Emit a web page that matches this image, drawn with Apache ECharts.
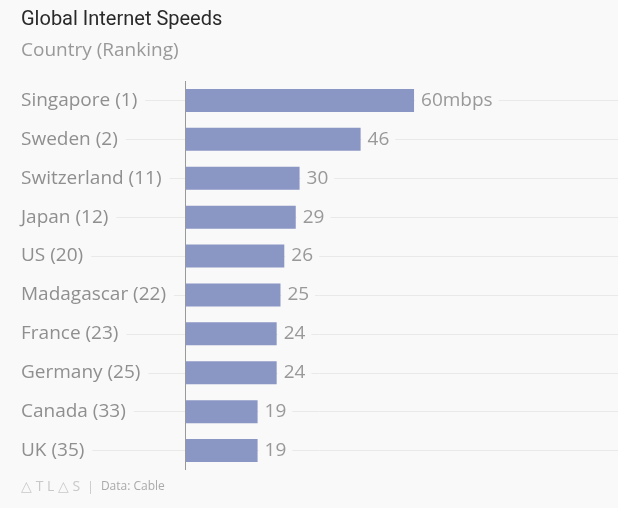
<!DOCTYPE html>
<html>
<head>
<meta charset="utf-8">
<script src="https://cdn.jsdelivr.net/npm/echarts@6/dist/echarts.min.js"></script>
<style>
  html, body { margin: 0; padding: 0; background: #f9f9f9; }
  #chart { width: 618px; height: 508px; }
</style>
</head>
<body>
<div id="chart"></div>
<script>
var countries = ['Singapore (1)', 'Sweden (2)', 'Switzerland (11)', 'Japan (12)', 'US (20)',
                 'Madagascar (22)', 'France (23)', 'Germany (25)', 'Canada (33)', 'UK (35)'];
var speeds = [60, 46, 30, 29, 26, 25, 24, 24, 19, 19];

var bg = '#f9f9f9';
var font = 'Open Sans';

var chart = echarts.init(document.getElementById('chart'));

chart.setOption({
    backgroundColor: bg,
    textStyle: { fontFamily: font },
    title: [
        {
            text: 'Global Internet Speeds',
            left: 21, top: 10, padding: 0,
            textStyle: { fontSize: 20, fontWeight: 'normal', color: '#2a2a2a', fontFamily: 'Roboto' }
        },
        {
            text: 'Country (Ranking)',
            left: 21, top: 41, padding: 0,
            textStyle: { fontSize: 19, fontWeight: 'normal', color: '#999', fontFamily: font }
        },
        {
            text: '{logo|△ T L △ S}{sep|  |  }{src|Data: Cable}',
            left: 21, top: 480, padding: 0,
            textStyle: {
                fontWeight: 'normal',
                rich: {
                    logo: { fontSize: 14, color: '#c8c8c8', fontFamily: font, fontWeight: 'normal' },
                    sep: { fontSize: 13, color: '#c8c8c8', fontFamily: font, fontWeight: 'normal' },
                    src: { fontSize: 12, color: '#aaa', fontFamily: font, fontWeight: 'normal' }
                }
            }
        }
    ],
    grid: { left: 21, right: 0, top: 81, bottom: 38 },
    xAxis: {
        type: 'value',
        min: -43,
        max: 113.45,
        show: false
    },
    yAxis: {
        type: 'category',
        data: countries,
        inverse: true,
        z: 5,
        axisLine: { show: false },
        axisTick: { show: false },
        splitLine: { show: false },
        axisLabel: {
            inside: true,
            margin: 0,
            fontSize: 19,
            color: '#8f8f8f',
            fontFamily: font,
            backgroundColor: bg,
            padding: [0, 8, 0, 0]
        }
    },
    series: [
        {
            type: 'line',
            data: [],
            z: 1,
            silent: true,
            markLine: {
                z: 1,
                silent: true,
                symbol: 'none',
                animation: false,
                label: { show: false },
                lineStyle: { type: 'solid', color: '#e9e9e9', width: 1 },
                data: countries.map(function (c) { return { yAxis: c }; })
            }
        },
        {
            type: 'line',
            data: [],
            z: 3,
            silent: true,
            markLine: {
                z: 3,
                silent: true,
                symbol: 'none',
                animation: false,
                label: { show: false },
                lineStyle: { type: 'solid', color: '#999', width: 1 },
                data: [{ xAxis: 0 }]
            }
        },
        {
            type: 'bar',
            data: speeds,
            barWidth: 23,
            z: 2,
            itemStyle: { color: '#8a96c4' },
            label: {
                show: true,
                position: 'right',
                distance: 1,
                fontSize: 19,
                color: '#999',
                fontFamily: font,
                backgroundColor: bg,
                padding: [0, 6, 0, 6],
                formatter: function (p) {
                    return p.dataIndex === 0 ? p.value + 'mbps' : p.value;
                }
            }
        }
    ]
});
</script>
</body>
</html>
